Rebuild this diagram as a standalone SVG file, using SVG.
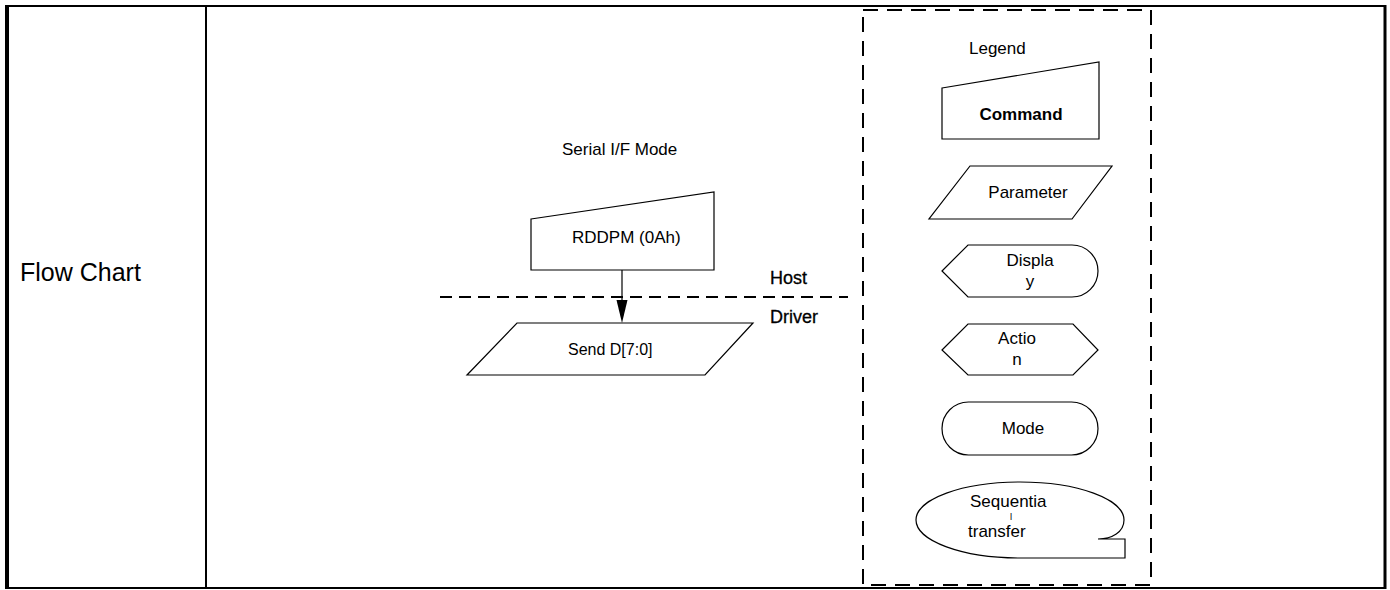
<svg xmlns="http://www.w3.org/2000/svg" width="1390" height="590" viewBox="0 0 1390 590">
<style>
.t{font-family:"Liberation Sans",Arial,sans-serif;font-size:17px;fill:#000}
.b{font-weight:bold}
.h{font-size:18px;stroke:#000;stroke-width:0.3}
.s{fill:#fff;stroke:#000;stroke-width:1.2}
.d{fill:none;stroke:#000;stroke-width:2;stroke-dasharray:12 7}
.ld{fill:none;stroke:#000;stroke-width:2;stroke-dasharray:15 9}
</style>
<rect width="1390" height="590" fill="#fff"/>
<g id="table">
<line x1="5" y1="6" x2="1386" y2="6" stroke="#000" stroke-width="2"/>
<line x1="5" y1="588" x2="1386" y2="588" stroke="#000" stroke-width="2"/>
<line x1="7" y1="5" x2="7" y2="589" stroke="#000" stroke-width="4"/>
<line x1="1385" y1="5" x2="1385" y2="589" stroke="#000" stroke-width="3"/>
<line x1="206" y1="5" x2="206" y2="589" stroke="#000" stroke-width="2"/>
<text class="t" x="20" y="281" style="font-size:25px">Flow Chart</text>
</g>
<g id="title"><text class="t" x="562" y="155">Serial I/F Mode</text></g>
<g id="boundary">
<line class="d" x1="440" y1="297" x2="848" y2="297"/>
<text class="t h" x="770" y="284">Host</text>
<text class="t h" x="770" y="323">Driver</text>
</g>
<g id="rddpm">
<polygon class="s" points="531,219 714,192 714,270 531,270"/>
<text class="t" x="572" y="243">RDDPM (0Ah)</text>
</g>
<g id="send">
<polygon class="s" points="517,323 753,323 705,375 467,375"/>
<text class="t" x="568" y="355" style="font-size:16px">Send D[7:0]</text>
</g>
<g id="connectors">
<line x1="622" y1="270" x2="622" y2="302" stroke="#000" stroke-width="1.2"/>
<polygon points="616.5,300 627.5,300 622,323" fill="#000"/>
</g>
<g id="legend">
<rect class="ld" x="863" y="10" width="288" height="575"/>
<text class="t" x="969" y="54">Legend</text>
<g id="lg-command">
<polygon class="s" points="942,88 1099,62 1099,139 942,139"/>
<text class="t b" x="1021" y="120" text-anchor="middle">Command</text>
</g>
<g id="lg-parameter">
<polygon class="s" points="970,166 1112,166 1072,219 929,219"/>
<text class="t" x="1028" y="198" text-anchor="middle">Parameter</text>
</g>
<g id="lg-display">
<path class="s" d="M942,271 L968,245 L1072,245 A26,26 0 0 1 1072,297 L968,297 Z"/>
<text class="t" x="1030" y="266" text-anchor="middle">Displa</text>
<text class="t" x="1030" y="287" text-anchor="middle">y</text>
</g>
<g id="lg-action">
<polygon class="s" points="942,350 968,324 1073,324 1098,350 1073,375 968,375"/>
<text class="t" x="1017" y="344" text-anchor="middle">Actio</text>
<text class="t" x="1017" y="365" text-anchor="middle">n</text>
</g>
<g id="lg-mode">
<rect class="s" x="942" y="402" width="156" height="53" rx="26.5"/>
<text class="t" x="1023" y="434" text-anchor="middle">Mode</text>
</g>
<g id="lg-seq">
<path class="s" d="M1125,558 L1020,558 A104,38 0 1 1 1124,520 C1124,532 1112,539 1098,539 L1125,539 Z"/>
<text class="t"><tspan x="970" y="507">Sequentia</tspan><tspan x="1010" y="520" style="font-size:9.5px">l</tspan><tspan x="968" y="537">transfer</tspan></text>
</g>
</g>
</svg>
